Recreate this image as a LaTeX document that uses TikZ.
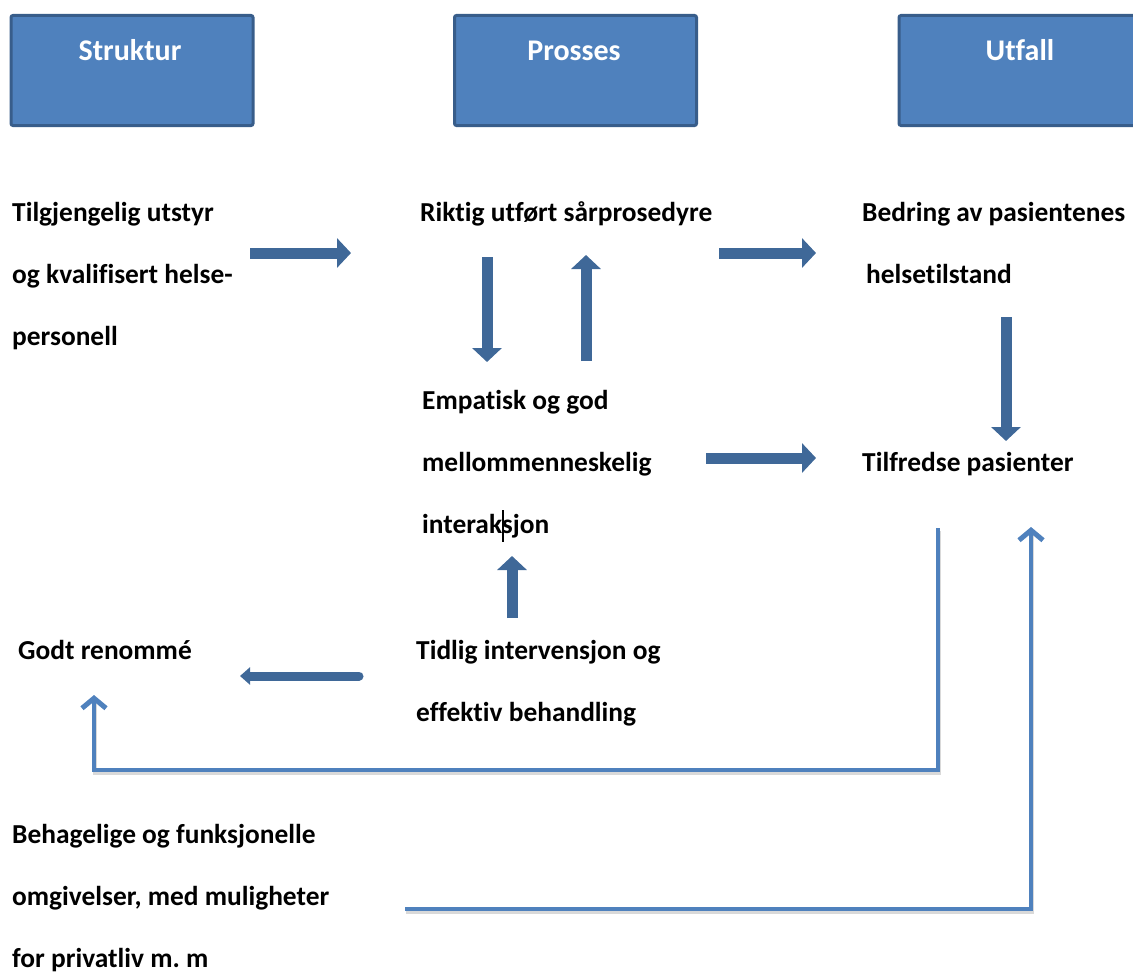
\documentclass[tikz,border=0pt]{standalone}
\usepackage{fontspec}
\setmainfont{Carlito}[Ligatures={NoCommon}]
\usetikzlibrary{arrows.meta}
\definecolor{boxfill}{HTML}{4F81BD}
\definecolor{boxline}{HTML}{385D8A}
\definecolor{arrowfill}{HTML}{3F6898}
\definecolor{linkblue}{HTML}{4F81BD}
\frenchspacing
\begin{document}
\begin{tikzpicture}[x=1pt,y=-1pt,
  header/.style={draw=boxline, fill=boxfill, line width=3pt, rounded corners=2pt,
    minimum width=242pt, minimum height=110pt, inner sep=0pt},
  headtext/.style={text=white, anchor=base, inner sep=0pt,
    font=\fontsize{30}{36}\selectfont\bfseries},
  lbl/.style={anchor=base west, inner sep=0pt,
    font=\fontsize{27.4}{32}\selectfont\bfseries},
  blockarrow/.style={draw=arrowfill, line width=11pt,
    -{Triangle[length=14pt,width=29pt]}},
  smallarrow/.style={draw=arrowfill, line width=9pt, line cap=round,
    -{Triangle[length=10pt,width=17pt]}},
  link/.style={draw=linkblue, line width=4.5pt, line join=miter,
    -{Straight Barb[length=10pt,width=24pt,line width=5pt]}},
]
\useasboundingbox (0,0) rectangle (1133,974);

% header boxes
\node[header] (hS) at (132,70.5) {};
\node[header] (hP) at (575.5,70.5) {};
\node[header] (hU) at (1020,70.5) {};
\node[headtext] (tS) at (130,61) {Struktur};
\node[headtext] (tP) at (574,61) {Prosses};
\node[headtext] (tU) at (1020,61) {Utfall};

% texts
\node[lbl] (s1) at (12,221) {Tilgjengelig utstyr};
\node[lbl] (s2) at (12,283) {og kvalifisert helse-};
\node[lbl] (s3) at (12,345) {personell};
\node[lbl] (p1) at (420,221) {Riktig utført sårprosedyre};
\node[lbl] (u1) at (862,221) {Bedring av pasientenes};
\node[lbl] (u2) at (866,283) {helsetilstand};
\node[lbl] (e1) at (422,409) {Empatisk og god};
\node[lbl] (e2) at (422,471) {mellommenneskelig};
\node[lbl] (e3) at (422,533) {interaksjon};
\node[lbl] (tf) at (862,471) {Tilfredse pasienter};
\node[lbl] (gr) at (18,659) {Godt renommé};
\node[lbl] (ti1) at (416,659) {Tidlig intervensjon og};
\node[lbl] (ti2) at (416,721) {effektiv behandling};
\node[lbl] (b1) at (12,843) {Behagelige og funksjonelle};
\node[lbl] (b2) at (12,905) {omgivelser, med muligheter};
\node[lbl] (b3) at (12,967) {for privatliv m. m};

% text cursor mark
\draw[line width=2pt] (503,510) -- (503,542);

% arrow end points
\coordinate (a1s) at (250,253); \coordinate (a1e) at (351,253);
\coordinate (a2s) at (487,257); \coordinate (a2e) at (487,362);
\coordinate (a3s) at (586,361); \coordinate (a3e) at (586,255);
\coordinate (a4s) at (719,253); \coordinate (a4e) at (816,253);
\coordinate (a5s) at (1006,317); \coordinate (a5e) at (1006,441);
\coordinate (a6s) at (706,458); \coordinate (a6e) at (816,458);
\coordinate (a7s) at (512,618); \coordinate (a7e) at (512,556);
\coordinate (a8s) at (359,676); \coordinate (a8e) at (240,676);

\draw[blockarrow] (a1s) -- (a1e);
\draw[blockarrow] (a2s) -- (a2e);
\draw[blockarrow] (a3s) -- (a3e);
\draw[blockarrow] (a4s) -- (a4e);
\draw[blockarrow] (a5s) -- (a5e);
\draw[blockarrow] (a6s) -- (a6e);
\draw[blockarrow] (a7s) -- (a7e);
\draw[smallarrow] (a8s) -- (a8e);

% feedback lines
\coordinate (l1s) at (938,528);
\coordinate (l1c1) at (938,770);
\coordinate (l1c2) at (94,770);
\coordinate (l1e) at (94,695);
\coordinate (l2s) at (405,909);
\coordinate (l2c) at (1031,909);
\coordinate (l2e) at (1031,527);

\draw[gray!30, line width=4pt, line join=miter] ([shift={(1,3)}]l1s) -- ([shift={(1,3)}]l1c1) -- ([shift={(1,3)}]l1c2) -- ([shift={(1,3)}]l1e);
\draw[gray!30, line width=4pt, line join=miter] ([shift={(1,3)}]l2s) -- ([shift={(1,3)}]l2c) -- ([shift={(1,3)}]l2e);
\draw[link] (l1s) -- (l1c1) -- (l1c2) -- (l1e);
\draw[link] (l2s) -- (l2c) -- (l2e);
\end{tikzpicture}
\end{document}
